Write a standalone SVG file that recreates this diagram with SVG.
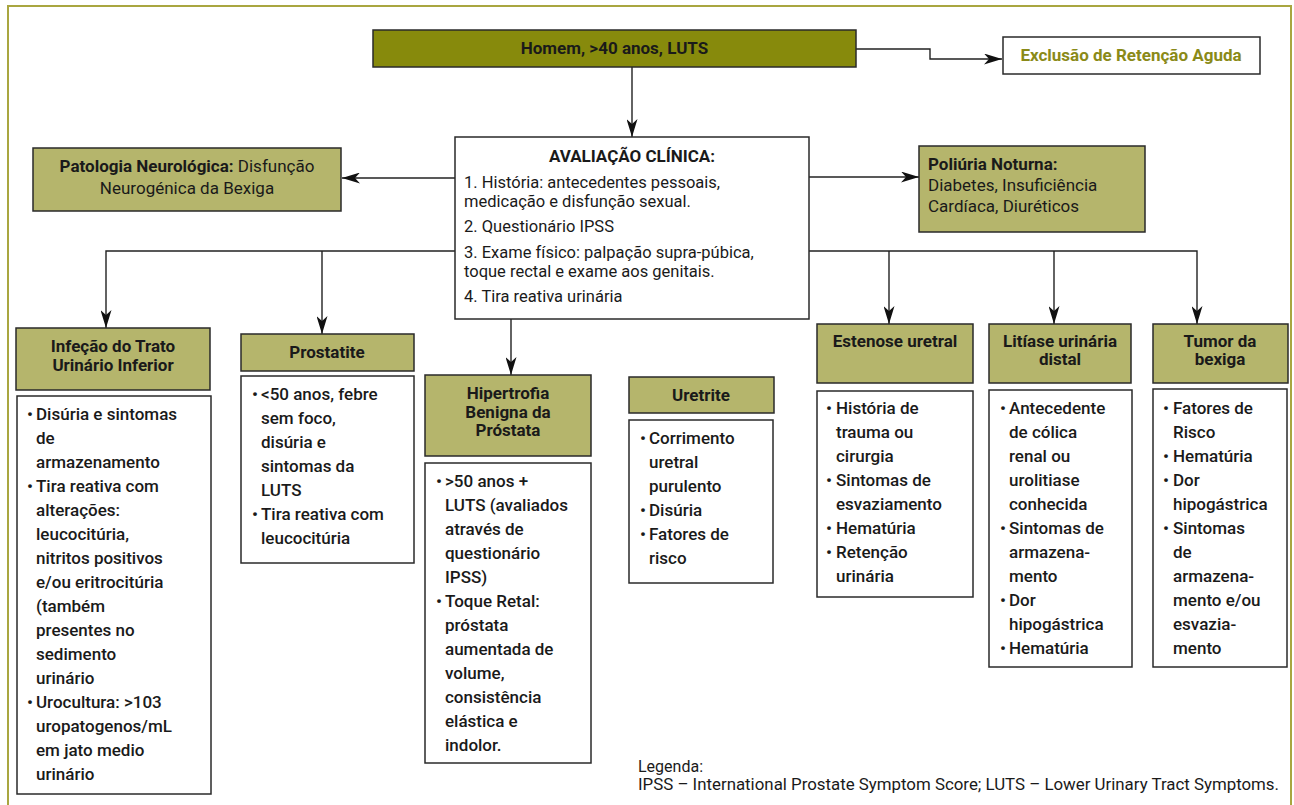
<svg xmlns="http://www.w3.org/2000/svg" width="1294" height="805" viewBox="0 0 1294 805">
<defs>
<style>
.frame{fill:none;stroke:#a9a640;stroke-width:2}
.hdr{fill:#b5b56c;stroke:#2a2a2a;stroke-width:1.5}
.top{fill:#878a0c;stroke:#2a2a2a;stroke-width:1.5}
.box{fill:#fff;stroke:#2a2a2a;stroke-width:1.5}
text{font-family:Roboto,"Liberation Sans",sans-serif;fill:#1a1a1a}
.h{font-weight:700;font-size:17px;text-anchor:middle}
.r{font-weight:400;font-size:16.5px}
.r17{font-weight:400;font-size:17px}
.m{font-weight:500;font-size:17px}
.bd{font-weight:700}
.conn{fill:none;stroke:#222;stroke-width:1.4}
</style>
<marker id="ah" viewBox="0 0 18 11" refX="18" refY="5.5" markerWidth="18" markerHeight="11" markerUnits="userSpaceOnUse" orient="auto">
<path d="M0,0 L18,5.5 L0,11 L5,5.5 Z" fill="#111"/>
</marker>
</defs>
<rect class="frame" x="8" y="6" width="1283" height="810"/>

<g id="connectors">
<path class="conn" d="M856,49 H930 V59 H1002" marker-end="url(#ah)"/>
<path class="conn" d="M632,67 V137" marker-end="url(#ah)"/>
<path class="conn" d="M455,178 H342" marker-end="url(#ah)"/>
<path class="conn" d="M809,177 H919" marker-end="url(#ah)"/>
<path class="conn" d="M455,251 H106 V328" marker-end="url(#ah)"/>
<path class="conn" d="M322,251 V334" marker-end="url(#ah)"/>
<path class="conn" d="M511,319 V375" marker-end="url(#ah)"/>
<path class="conn" d="M809,251 H1197 V324" marker-end="url(#ah)"/>
<path class="conn" d="M889,251 V324" marker-end="url(#ah)"/>
<path class="conn" d="M1054,251 V324" marker-end="url(#ah)"/>
</g>

<g id="homem">
<rect class="top" x="373" y="30" width="483" height="37"/>
<text class="h" x="614.5" y="54">Homem, &gt;40 anos, LUTS</text>
</g>

<g id="exclusao">
<rect class="box" x="1003" y="37" width="257" height="37"/>
<text class="h" x="1131" y="61" style="fill:#8a8a18">Exclusão de Retenção Aguda</text>
</g>

<g id="avaliacao">
<rect class="box" x="455" y="137" width="354" height="182"/>
<text class="h" x="632" y="162">AVALIAÇÃO CLÍNICA:</text>
<text class="r">
<tspan x="464" y="188">1. História: antecedentes pessoais,</tspan>
<tspan x="464" y="207">medicação e disfunção sexual.</tspan>
<tspan x="464" y="232">2. Questionário IPSS</tspan>
<tspan x="464" y="258">3. Exame físico: palpação supra-púbica,</tspan>
<tspan x="464" y="277">toque rectal e exame aos genitais.</tspan>
<tspan x="464" y="302">4. Tira reativa urinária</tspan>
</text>
</g>

<g id="patologia">
<rect class="hdr" x="33" y="148" width="308" height="63"/>
<text class="r17" x="187" y="172" text-anchor="middle"><tspan class="bd">Patologia Neurológica:</tspan> Disfunção</text>
<text class="r17" x="187" y="194" text-anchor="middle">Neurogénica da Bexiga</text>
</g>

<g id="poliuria">
<rect class="hdr" x="919" y="146" width="226" height="86"/>
<text class="r17">
<tspan x="928" y="170" class="bd">Poliúria Noturna:</tspan>
<tspan x="928" y="191">Diabetes, Insuficiência</tspan>
<tspan x="928" y="212">Cardíaca, Diuréticos</tspan>
</text>
</g>

<g id="itu">
<rect class="hdr" x="16" y="328" width="194" height="62"/>
<text class="h"><tspan x="113" y="352">Infeção do Trato</tspan><tspan x="113" y="371">Urinário Inferior</tspan></text>
<rect class="box" x="17" y="396" width="194" height="398"/>
<text class="m">
<tspan x="27" y="420">•</tspan><tspan x="36" y="420">Disúria e sintomas</tspan>
<tspan x="36" y="444">de</tspan>
<tspan x="36" y="468">armazenamento</tspan>
<tspan x="27" y="492">•</tspan><tspan x="36" y="492">Tira reativa com</tspan>
<tspan x="36" y="516">alterações:</tspan>
<tspan x="36" y="540">leucocitúria,</tspan>
<tspan x="36" y="564">nitritos positivos</tspan>
<tspan x="36" y="588">e/ou eritrocitúria</tspan>
<tspan x="36" y="612">(também</tspan>
<tspan x="36" y="636">presentes no</tspan>
<tspan x="36" y="660">sedimento</tspan>
<tspan x="36" y="684">urinário</tspan>
<tspan x="27" y="708">•</tspan><tspan x="36" y="708">Urocultura: &gt;103</tspan>
<tspan x="36" y="732">uropatogenos/mL</tspan>
<tspan x="36" y="756">em jato medio</tspan>
<tspan x="36" y="780">urinário</tspan>
</text>
</g>

<g id="prostatite">
<rect class="hdr" x="241" y="334" width="173" height="37"/>
<text class="h" x="327" y="358">Prostatite</text>
<rect class="box" x="241" y="376" width="173" height="187"/>
<text class="m">
<tspan x="252" y="400">•</tspan><tspan x="261" y="400">&lt;50 anos, febre</tspan>
<tspan x="261" y="424">sem foco,</tspan>
<tspan x="261" y="448">disúria e</tspan>
<tspan x="261" y="472">sintomas da</tspan>
<tspan x="261" y="496">LUTS</tspan>
<tspan x="252" y="520">•</tspan><tspan x="261" y="520">Tira reativa com</tspan>
<tspan x="261" y="544">leucocitúria</tspan>
</text>
</g>

<g id="hbp">
<rect class="hdr" x="425" y="375" width="166" height="81"/>
<text class="h"><tspan x="508" y="399">Hipertrofia</tspan><tspan x="508" y="418">Benigna da</tspan><tspan x="508" y="436">Próstata</tspan></text>
<rect class="box" x="425" y="463" width="166" height="300"/>
<text class="m">
<tspan x="436" y="487">•</tspan><tspan x="445" y="487">&gt;50 anos +</tspan>
<tspan x="445" y="511">LUTS (avaliados</tspan>
<tspan x="445" y="535">através de</tspan>
<tspan x="445" y="559">questionário</tspan>
<tspan x="445" y="583">IPSS)</tspan>
<tspan x="436" y="607">•</tspan><tspan x="445" y="607">Toque Retal:</tspan>
<tspan x="445" y="631">próstata</tspan>
<tspan x="445" y="655">aumentada de</tspan>
<tspan x="445" y="679">volume,</tspan>
<tspan x="445" y="703">consistência</tspan>
<tspan x="445" y="727">elástica e</tspan>
<tspan x="445" y="751">indolor.</tspan>
</text>
</g>

<g id="uretrite">
<rect class="hdr" x="629" y="377" width="145" height="36"/>
<text class="h" x="701" y="401">Uretrite</text>
<rect class="box" x="629" y="420" width="144" height="163"/>
<text class="m">
<tspan x="640" y="444">•</tspan><tspan x="649" y="444">Corrimento</tspan>
<tspan x="649" y="468">uretral</tspan>
<tspan x="649" y="492">purulento</tspan>
<tspan x="640" y="516">•</tspan><tspan x="649" y="516">Disúria</tspan>
<tspan x="640" y="540">•</tspan><tspan x="649" y="540">Fatores de</tspan>
<tspan x="649" y="564">risco</tspan>
</text>
</g>

<g id="estenose">
<rect class="hdr" x="817" y="324" width="156" height="59"/>
<text class="h" x="895" y="347">Estenose uretral</text>
<rect class="box" x="817" y="391" width="156" height="206"/>
<text class="m">
<tspan x="826" y="414">•</tspan><tspan x="836" y="414">História de</tspan>
<tspan x="836" y="438">trauma ou</tspan>
<tspan x="836" y="462">cirurgia</tspan>
<tspan x="826" y="486">•</tspan><tspan x="836" y="486">Sintomas de</tspan>
<tspan x="836" y="510">esvaziamento</tspan>
<tspan x="826" y="534">•</tspan><tspan x="836" y="534">Hematúria</tspan>
<tspan x="826" y="558">•</tspan><tspan x="836" y="558">Retenção</tspan>
<tspan x="836" y="582">urinária</tspan>
</text>
</g>

<g id="litiase">
<rect class="hdr" x="989" y="324" width="142" height="59"/>
<text class="h"><tspan x="1060" y="347">Litíase urinária</tspan><tspan x="1060" y="365">distal</tspan></text>
<rect class="box" x="989" y="390" width="143" height="277"/>
<text class="m">
<tspan x="1000" y="414">•</tspan><tspan x="1009" y="414">Antecedente</tspan>
<tspan x="1009" y="438">de cólica</tspan>
<tspan x="1009" y="462">renal ou</tspan>
<tspan x="1009" y="486">urolitiase</tspan>
<tspan x="1009" y="510">conhecida</tspan>
<tspan x="1000" y="534">•</tspan><tspan x="1009" y="534">Sintomas de</tspan>
<tspan x="1009" y="558">armazena-</tspan>
<tspan x="1009" y="582">mento</tspan>
<tspan x="1000" y="606">•</tspan><tspan x="1009" y="606">Dor</tspan>
<tspan x="1009" y="630">hipogástrica</tspan>
<tspan x="1000" y="654">•</tspan><tspan x="1009" y="654">Hematúria</tspan>
</text>
</g>

<g id="tumor">
<rect class="hdr" x="1153" y="324" width="135" height="59"/>
<text class="h"><tspan x="1220" y="347">Tumor da</tspan><tspan x="1220" y="365">bexiga</tspan></text>
<rect class="box" x="1153" y="389" width="134" height="278"/>
<text class="m">
<tspan x="1163" y="414">•</tspan><tspan x="1173" y="414">Fatores de</tspan>
<tspan x="1173" y="438">Risco</tspan>
<tspan x="1163" y="462">•</tspan><tspan x="1173" y="462">Hematúria</tspan>
<tspan x="1163" y="486">•</tspan><tspan x="1173" y="486">Dor</tspan>
<tspan x="1173" y="510">hipogástrica</tspan>
<tspan x="1163" y="534">•</tspan><tspan x="1173" y="534">Sintomas</tspan>
<tspan x="1173" y="558">de</tspan>
<tspan x="1173" y="582">armazena-</tspan>
<tspan x="1173" y="606">mento e/ou</tspan>
<tspan x="1173" y="630">esvazia-</tspan>
<tspan x="1173" y="654">mento</tspan>
</text>
</g>

<g id="legenda">
<text class="r" style="font-size:16px" x="638" y="772">Legenda:</text>
<text class="r" style="font-size:16px" x="638" y="790" textLength="641" lengthAdjust="spacingAndGlyphs">IPSS – International Prostate Symptom Score; LUTS – Lower Urinary Tract Symptoms.</text>
</g>
</svg>
